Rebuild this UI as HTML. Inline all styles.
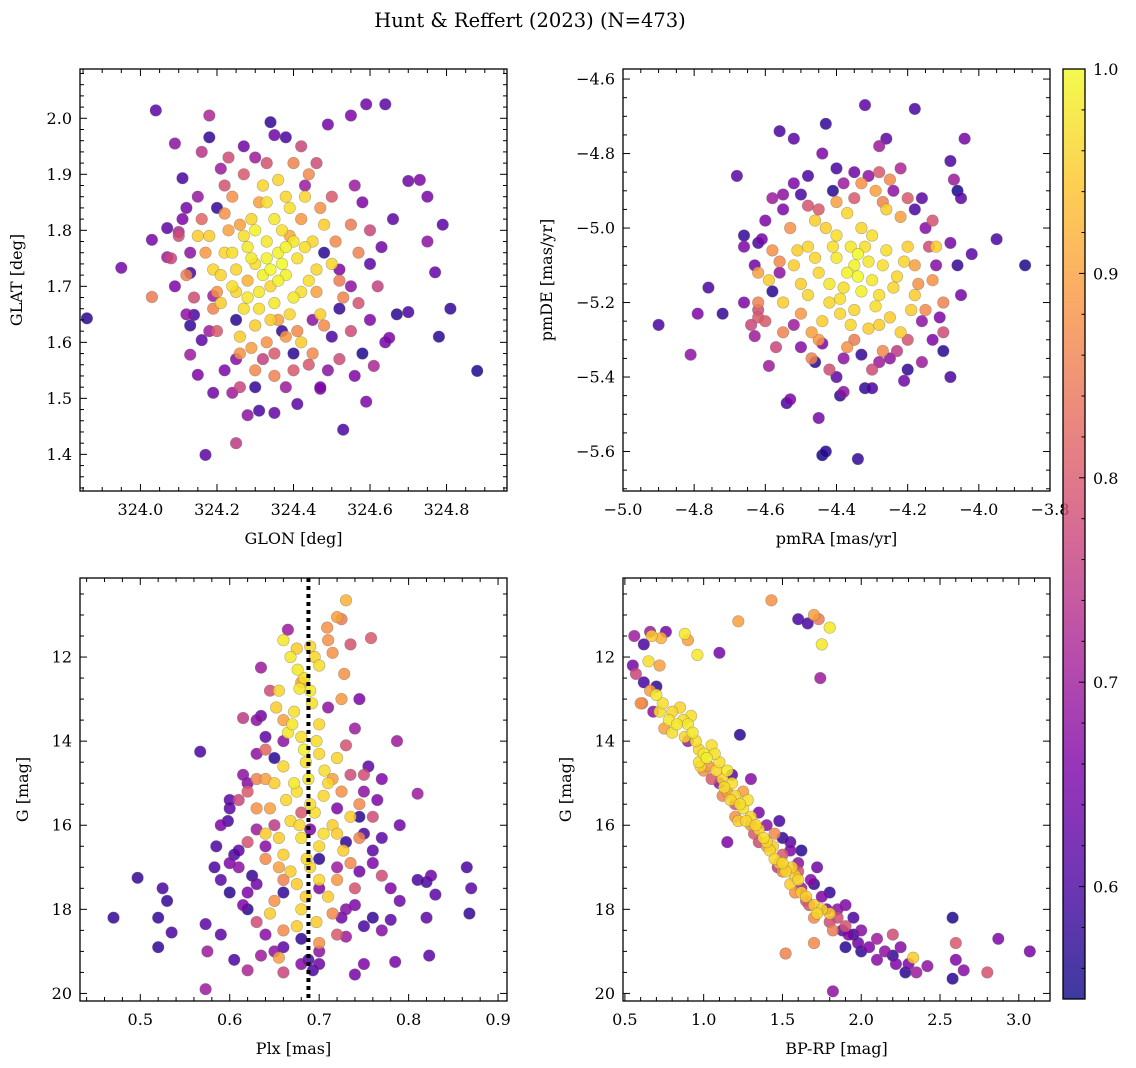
<!DOCTYPE html>
<html><head><meta charset="utf-8">
<style>
body{margin:0;background:#fff;}
svg{display:block;font-family:"DejaVu Serif","Liberation Serif",serif;}
</style></head>
<body>
<svg id="fig" width="1136" height="1068" viewBox="0 0 1136 1068" xmlns="http://www.w3.org/2000/svg">
<defs>
<linearGradient id="plasma" x1="0" y1="1" x2="0" y2="0">
<stop offset="0" stop-color="#0d0887"/><stop offset="0.125" stop-color="#4b03a1"/><stop offset="0.25" stop-color="#7d03a8"/><stop offset="0.375" stop-color="#a82296"/><stop offset="0.5" stop-color="#cb4679"/><stop offset="0.625" stop-color="#e56b5d"/><stop offset="0.75" stop-color="#f89441"/><stop offset="0.875" stop-color="#fdc328"/><stop offset="1" stop-color="#f0f921"/>
</linearGradient>
</defs>
<text x="530" y="27" font-size="19.5" text-anchor="middle">Hunt &amp; Reffert (2023) (N=473)</text>
<g id="layer"></g>
</svg>
<script>
// Panel data: [x, y, membership probability]
const glonGlat = [
[323.86,1.643,.57],[323.95,1.733,.65],[324.04,2.014,.62],[324.09,1.955,.68],[324.18,2.005,.72],[324.18,1.966,.58],[324.34,1.993,.58],[324.38,1.966,.6],[324.49,1.989,.65],[324.55,2.005,.66],[324.59,2.025,.64],[324.64,2.025,.62],[324.88,1.549,.56],[324.81,1.66,.58],[324.78,1.61,.57],[324.77,1.725,.63],[324.75,1.78,.68],[324.79,1.81,.62],[324.75,1.86,.65],[324.73,1.89,.66],[324.70,1.888,.64],[324.70,1.654,.6],[324.65,1.608,.66],[324.61,1.558,.72],[324.59,1.494,.66],[324.53,1.444,.6],[324.47,1.517,.65],[324.31,1.478,.6],[324.35,1.474,.63],[324.25,1.42,.75],[324.17,1.399,.62],[324.24,1.51,.7],[324.15,1.542,.66],[324.13,1.578,.7],[324.16,1.604,.62],[324.14,1.649,.6],[324.19,1.683,.7],[324.10,1.797,.72],[324.12,1.84,.65],[324.11,1.893,.6],[324.16,1.94,.74],[324.03,1.681,.85],[324.03,1.783,.65],[324.07,1.752,.7],[324.07,1.804,.62],[324.13,1.724,.6],
[324.33,1.78,.98],[324.36,1.76,.99],[324.30,1.74,.97],[324.38,1.72,.99],[324.34,1.70,.96],[324.28,1.77,.98],[324.41,1.75,.97],[324.25,1.73,.96],[324.31,1.69,.98],[324.37,1.80,.97],[324.29,1.82,.96],[324.44,1.71,.97],[324.35,1.67,.98],[324.22,1.76,.96],[324.39,1.84,.97],[324.32,1.88,.96],[324.27,1.66,.97],[324.45,1.78,.96],[324.24,1.70,.97],[324.40,1.68,.98],[324.34,1.73,1.0],[324.18,1.79,.95],[324.47,1.65,.95],[324.43,1.86,.96],[324.30,1.63,.95],[324.36,1.89,.96],[324.21,1.67,.95],[324.50,1.74,.96],[324.15,1.79,.95],[324.42,1.60,.95],[324.26,1.61,.95],[324.48,1.81,.95],[324.19,1.73,.96],[324.33,1.75,.99],[324.38,1.77,.99],
[324.26,1.81,.9],[324.39,1.79,.91],[324.31,1.85,.9],[324.42,1.82,.89],[324.22,1.83,.88],[324.46,1.69,.9],[324.28,1.71,.92],[324.36,1.64,.9],[324.20,1.69,.88],[324.44,1.90,.87],[324.33,1.60,.88],[324.51,1.78,.87],[324.17,1.76,.89],[324.40,1.92,.86],[324.30,1.55,.87],[324.53,1.68,.86],[324.24,1.86,.88],[324.35,1.54,.86],[324.48,1.63,.87],[324.12,1.72,.86],[324.57,1.76,.86],[324.45,1.58,.87],[324.26,1.58,.88],[324.55,1.81,.85],[324.38,1.61,.89],
[324.20,1.62,.8],[324.50,1.86,.8],[324.14,1.68,.78],[324.57,1.67,.79],[324.27,1.90,.8],[324.46,1.92,.78],[324.35,1.58,.8],[324.22,1.88,.79],[324.60,1.80,.77],[324.10,1.79,.78],[324.52,1.57,.78],[324.40,1.55,.8],[324.26,1.52,.77],[324.62,1.70,.76],[324.08,1.75,.77],[324.23,1.93,.78],[324.42,1.95,.77],[324.33,1.92,.79],[324.55,1.62,.78],
[324.45,1.64,.68],[324.52,1.73,.66],[324.18,1.62,.7],[324.58,1.85,.66],[324.12,1.65,.68],[324.30,1.93,.7],[324.25,1.57,.67],[324.49,1.55,.68],[324.38,1.52,.7],[324.60,1.64,.66],[324.15,1.86,.69],[324.55,1.70,.68],[324.22,1.55,.66],[324.43,1.88,.7],[324.63,1.77,.64],[324.11,1.82,.66],[324.35,1.97,.64],[324.47,1.52,.66],[324.28,1.47,.68],[324.64,1.60,.65],
[324.37,1.62,.58],[324.25,1.64,.57],[324.52,1.66,.58],[324.48,1.76,.57],[324.20,1.84,.58],[324.40,1.58,.57],[324.58,1.58,.56],[324.30,1.52,.58],[324.67,1.65,.57],[324.13,1.63,.58],
[324.32,1.72,.99],[324.29,1.75,.98],[324.36,1.71,.99],[324.40,1.78,.98],[324.27,1.79,.97],[324.35,1.82,.98],[324.31,1.66,.97],[324.24,1.76,.97],[324.42,1.69,.97],[324.38,1.86,.96],[324.21,1.72,.96],[324.46,1.73,.96],[324.28,1.68,.98],[324.33,1.85,.97],[324.39,1.65,.96],[324.30,1.80,.99],[324.43,1.77,.97],[324.25,1.69,.96],[324.37,1.74,1.0],[324.34,1.64,.95],
[324.23,1.80,.9],[324.47,1.84,.88],[324.19,1.66,.86],[324.41,1.62,.87],[324.29,1.59,.9],[324.52,1.71,.85],[324.16,1.82,.82],[324.44,1.56,.8],[324.32,1.57,.76],[324.56,1.88,.7],[324.09,1.70,.66],[324.60,1.74,.62],[324.21,1.91,.7],[324.50,1.61,.6],[324.27,1.95,.64],[324.13,1.76,.68],[324.66,1.82,.62],[324.19,1.51,.64],[324.41,1.49,.62],[324.56,1.54,.66]
];
const pmraPmde = [
[-4.90,-5.26,.6],[-4.81,-5.34,.68],[-4.79,-5.23,.66],[-4.76,-5.16,.6],[-4.72,-5.23,.58],[-4.68,-4.86,.62],[-4.63,-5.29,.7],[-4.62,-5.24,.8],[-4.59,-5.37,.7],[-4.56,-4.74,.6],[-4.52,-4.76,.62],[-4.54,-5.47,.6],[-4.53,-5.46,.66],[-4.45,-5.51,.65],[-4.44,-5.61,.55],[-4.43,-5.60,.57],[-4.34,-5.62,.58],[-4.39,-5.45,.58],[-4.38,-5.44,.68],[-4.30,-5.43,.6],[-4.32,-4.67,.62],[-4.28,-4.78,.7],[-4.26,-4.76,.62],[-4.18,-4.68,.6],[-4.43,-4.72,.58],[-4.44,-4.80,.66],[-4.40,-4.84,.6],[-4.35,-4.85,.64],[-4.22,-4.84,.72],[-4.16,-4.92,.62],[-4.08,-4.82,.6],[-4.06,-4.90,.55],[-4.04,-4.76,.65],[-4.07,-4.87,.7],[-3.87,-5.10,.56],[-3.95,-5.03,.6],[-4.05,-4.92,.62],[-4.08,-5.04,.65],[-4.08,-5.40,.6],[-4.13,-5.30,.66],[-4.16,-5.36,.7],[-4.32,-5.43,.58],[-4.28,-5.36,.7],[-4.50,-4.91,.6],[-4.55,-4.95,.66],[-4.55,-4.91,.68],[-4.62,-5.04,.6],[-4.61,-5.03,.65],[-4.62,-5.12,.9],
[-4.35,-5.10,.99],[-4.30,-5.14,.98],[-4.40,-5.08,.98],[-4.38,-5.16,.97],[-4.32,-5.05,.97],[-4.45,-5.12,.96],[-4.27,-5.10,.97],[-4.42,-5.20,.96],[-4.35,-5.22,.96],[-4.28,-5.18,.97],[-4.48,-5.05,.96],[-4.33,-5.00,.96],[-4.23,-5.13,.96],[-4.50,-5.15,.95],[-4.37,-4.96,.96],[-4.25,-5.24,.95],[-4.44,-5.25,.95],[-4.20,-5.05,.95],[-4.52,-5.10,.95],[-4.31,-5.27,.95],[-4.40,-5.02,.97],[-4.18,-5.18,.95],[-4.55,-5.20,.95],[-4.12,-5.05,.95],[-4.34,-5.13,1.0],[-4.26,-4.95,.95],[-4.46,-4.98,.95],[-4.59,-5.14,.95],[-4.22,-5.28,.95],[-4.36,-5.05,.98],
[-4.29,-4.90,.9],[-4.45,-5.30,.89],[-4.18,-5.10,.9],[-4.58,-5.06,.88],[-4.33,-4.88,.88],[-4.22,-4.97,.9],[-4.50,-5.23,.89],[-4.37,-5.32,.88],[-4.15,-5.22,.87],[-4.55,-5.28,.86],[-4.25,-4.87,.87],[-4.40,-4.93,.9],[-4.47,-5.35,.86],[-4.13,-5.14,.88],[-4.62,-5.20,.86],[-4.10,-5.20,.86],[-4.27,-5.33,.87],[-4.53,-5.00,.88],
[-4.28,-4.85,.8],[-4.20,-5.30,.79],[-4.62,-5.22,.78],[-4.35,-4.92,.8],[-4.48,-4.94,.79],[-4.10,-5.28,.78],[-4.57,-5.32,.77],[-4.42,-5.38,.78],[-4.13,-4.98,.79],[-4.20,-4.92,.8],[-4.64,-5.26,.77],[-4.30,-5.38,.78],
[-4.24,-4.90,.68],[-4.50,-5.32,.67],[-4.16,-5.25,.68],[-4.60,-4.98,.66],[-4.38,-4.88,.7],[-4.12,-5.10,.67],[-4.56,-5.12,.68],[-4.44,-5.31,.66],[-4.25,-5.35,.68],[-4.05,-5.18,.65],[-4.66,-5.05,.66],[-4.38,-5.35,.68],[-4.15,-5.00,.67],[-4.52,-4.88,.66],
[-4.33,-5.34,.58],[-4.46,-5.36,.57],[-4.20,-5.38,.58],[-4.58,-5.17,.57],[-4.06,-5.10,.58],[-4.41,-4.90,.57],[-4.66,-5.02,.58],[-4.10,-5.33,.57],
[-4.37,-5.12,.99],[-4.31,-5.09,.98],[-4.42,-5.15,.98],[-4.29,-5.21,.97],[-4.39,-5.19,.97],[-4.33,-5.17,.99],[-4.26,-5.06,.97],[-4.46,-5.08,.96],[-4.36,-5.26,.96],[-4.41,-5.05,.97],[-4.24,-5.16,.96],[-4.30,-5.02,.97],[-4.48,-5.18,.96],[-4.21,-5.09,.96],[-4.34,-5.07,1.0],[-4.43,-5.00,.95],[-4.28,-5.26,.95],[-4.51,-5.06,.95],[-4.19,-5.22,.95],[-4.39,-5.23,.96],
[-4.47,-5.28,.9],[-4.17,-5.15,.88],[-4.56,-5.09,.87],[-4.27,-4.93,.86],[-4.35,-5.30,.85],[-4.60,-5.25,.8],[-4.14,-5.05,.78],[-4.45,-4.95,.8],[-4.23,-5.33,.75],[-4.52,-5.26,.7],[-4.11,-5.24,.66],[-4.63,-5.10,.64],[-4.31,-4.86,.68],[-4.40,-5.40,.62],[-4.18,-4.95,.6],[-4.66,-5.20,.66],[-4.02,-5.07,.62],[-4.48,-4.86,.6],[-4.21,-5.41,.64],[-4.58,-4.92,.7]
];
const plxG = [
[0.47,18.2,.58],[0.497,17.25,.58],[0.52,18.2,.58],[0.525,17.5,.6],[0.53,17.8,.58],[0.535,18.55,.6],[0.52,18.9,.58],[0.567,14.25,.6],[0.573,18.35,.62],[0.575,19.0,.7],[0.573,19.9,.7],[0.583,17.0,.6],[0.59,17.3,.62],[0.59,18.6,.62],[0.60,15.6,.62],[0.605,19.2,.6],[0.59,16.0,.66],[0.598,15.9,.6],[0.615,13.45,.75],[0.62,19.45,.72],[0.63,17.4,.64],[0.61,16.6,.62],[0.605,16.7,.6],[0.635,12.25,.7],[0.635,13.4,.64],[0.64,13.9,.62],[0.74,13.7,.7],[0.745,13.0,.66],[0.755,14.6,.62],[0.758,11.55,.8],[0.77,14.9,.66],[0.787,14.0,.7],[0.79,16.0,.64],[0.81,15.25,.7],[0.81,17.3,.6],[0.82,17.35,.6],[0.825,17.2,.64],[0.83,17.65,.62],[0.82,18.2,.62],[0.823,19.1,.62],[0.865,17.0,.6],[0.87,17.5,.62],[0.868,18.1,.58],[0.78,18.25,.62],[0.785,19.25,.65],[0.75,19.3,.66],[0.74,19.55,.65],[0.73,18.65,.7],[0.725,18.2,.64],[0.78,17.5,.66],[0.76,16.6,.62],[0.75,16.2,.6],[0.635,19.1,.7],[0.615,17.9,.66],[0.655,19.15,.9],[0.693,19.45,.6],[0.688,19.2,.6],[0.73,10.65,.92],[0.72,11.05,.9],[0.725,11.1,.85],[0.709,11.3,.88],[0.715,11.9,.88],[0.665,11.35,.7],[0.66,11.6,.98],[0.675,11.8,.95],[0.68,12.6,.9],
[0.668,12.0,.98],[0.683,12.5,.97],[0.655,12.8,.96],[0.69,12.8,.98],[0.672,13.3,.97],[0.70,13.6,.96],[0.665,13.8,.98],[0.683,14.2,.99],[0.697,14.0,.97],[0.66,14.6,.96],[0.688,14.9,.98],[0.675,15.2,.97],[0.705,15.3,.96],[0.695,15.7,.97],[0.668,15.9,.96],[0.715,16.0,.95],[0.68,16.3,.97],[0.70,16.5,.96],[0.66,16.7,.95],[0.727,16.6,.95],[0.69,17.0,.96],[0.675,17.4,.95],[0.71,17.7,.95],[0.68,18.0,.96],[0.697,18.3,.95],[0.64,16.2,.95],[0.65,15.0,.95],[0.72,14.4,.96],[0.70,12.2,.97],[0.652,13.2,.95],[0.735,15.8,.95],[0.69,11.75,.96],[0.645,18.1,.95],[0.678,12.75,.98],[0.706,14.7,.97],
[0.64,14.9,.9],[0.725,13.0,.89],[0.63,15.6,.88],[0.745,15.5,.87],[0.655,17.0,.9],[0.72,17.3,.89],[0.65,17.8,.88],[0.735,16.9,.87],[0.70,18.8,.88],[0.66,13.5,.9],[0.728,12.4,.88],[0.64,16.8,.87],[0.715,14.9,.9],[0.63,14.9,.86],[0.745,16.3,.86],[0.66,18.5,.87],[0.71,11.6,.88],
[0.62,15.2,.8],[0.73,14.1,.79],[0.76,15.8,.78],[0.62,16.4,.79],[0.645,12.8,.78],[0.74,17.5,.79],[0.63,18.3,.78],[0.72,18.6,.8],[0.66,19.5,.77],[0.75,14.8,.78],[0.68,15.7,.8],[0.61,15.4,.77],[0.77,17.2,.78],[0.735,11.7,.79],
[0.63,14.3,.68],[0.64,16.5,.67],[0.75,15.2,.68],[0.70,17.5,.66],[0.61,17.0,.68],[0.73,18.0,.67],[0.65,19.0,.68],[0.76,16.9,.66],[0.62,15.0,.67],[0.66,14.0,.68],[0.72,15.6,.66],[0.68,19.3,.67],[0.70,19.0,.68],[0.74,17.9,.66],[0.64,18.6,.67],[0.71,13.2,.68],[0.60,16.9,.66],[0.77,18.5,.67],[0.63,13.5,.68],[0.69,16.1,.66],
[0.625,17.2,.58],[0.745,15.8,.57],[0.66,17.6,.58],[0.70,16.8,.57],[0.68,18.7,.58],[0.62,18.0,.57],[0.73,16.4,.58],[0.65,14.4,.57],[0.76,18.2,.58],[0.60,17.6,.57],
[0.676,12.3,.98],[0.692,13.1,.97],[0.67,13.6,.98],[0.685,14.5,.97],[0.70,14.3,.96],[0.672,15.0,.98],[0.69,15.5,.97],[0.678,16.0,.96],[0.705,16.2,.97],[0.686,16.8,.96],[0.668,17.1,.95],[0.70,17.3,.96],[0.685,17.7,.95],[0.663,15.4,.96],[0.71,15.0,.96],[0.68,13.9,.97],[0.695,12.0,.96],[0.72,16.2,.95],[0.655,16.3,.95],[0.675,18.4,.95],
[0.645,15.6,.9],[0.725,15.2,.88],[0.66,17.3,.86],[0.715,18.1,.87],[0.64,14.2,.82],[0.735,14.8,.78],[0.65,16.0,.75],[0.72,17.0,.7],[0.62,17.6,.66],[0.745,17.1,.64],[0.60,15.4,.62],[0.765,15.4,.66],[0.63,16.1,.7],[0.70,19.3,.64],[0.66,18.9,.62],[0.75,18.4,.6],[0.615,14.8,.68],[0.77,16.3,.62],[0.585,16.5,.6],[0.79,17.8,.64]
];
const bprpG = [
[0.56,11.5,.7],[0.55,12.2,.65],[0.62,11.7,.6],[0.66,11.4,.7],[0.67,11.5,.95],[0.76,11.4,.65],[0.73,11.55,.92],[0.88,11.45,.98],[0.9,11.6,.9],[0.96,11.95,.98],[1.1,11.9,.65],[1.22,11.15,.9],[1.43,10.65,.88],[1.6,11.1,.6],[1.66,11.2,.6],[1.7,11.0,.9],[1.73,11.1,.85],[1.8,11.3,.98],[1.75,11.7,.98],[1.74,12.5,.7],[0.65,12.1,.97],[0.72,12.2,.9],[0.62,12.6,.6],[0.66,12.8,.9],[0.61,13.1,.85],[0.7,12.9,.98],
[0.72,13.3,.97],[0.78,13.5,.98],[0.85,13.2,.96],[0.8,13.8,.97],[0.9,13.6,.98],[0.95,14.0,.97],[0.88,13.9,.96],[1.0,14.3,.98],[1.05,14.1,.97],[0.98,14.6,.96],[1.1,14.5,.97],[1.12,14.9,.96],[1.18,15.0,.97],[1.2,15.3,.96],[1.25,15.6,.97],[1.3,15.8,.96],[1.22,15.9,.95],[1.35,16.1,.96],[1.38,16.3,.97],[1.42,16.6,.96],[1.48,16.9,.95],[1.52,17.1,.96],[1.55,17.4,.95],[1.6,17.3,.96],[1.62,17.6,.95],[1.7,17.9,.95],[1.75,18.0,.96],[2.33,19.15,.95],[1.02,14.4,.99],[0.92,13.4,.97],[1.15,14.7,.98],[1.28,15.4,.97],[1.45,16.8,.96],[1.58,17.2,.95],[0.83,13.6,.98],
[0.75,13.7,.9],[1.03,14.6,.89],[1.15,15.2,.9],[1.3,16.0,.88],[1.4,16.5,.89],[1.5,17.1,.87],[1.58,17.6,.88],[1.7,18.2,.87],[1.52,19.05,.86],[1.7,18.8,.87],[0.6,13.1,.88],[1.25,15.2,.9],[1.2,15.8,.88],[1.45,16.2,.87],
[1.05,14.9,.8],[1.2,15.5,.79],[1.35,16.4,.78],[1.5,16.7,.8],[1.65,17.8,.79],[1.8,18.3,.78],[2.2,18.6,.78],[2.6,18.8,.8],[2.8,19.5,.79],[0.57,12.4,.77],[1.6,17.1,.79],[1.85,18.2,.78],[1.9,18.4,.79],
[0.68,13.3,.68],[1.1,15.0,.67],[1.4,16.0,.68],[1.55,16.6,.66],[1.6,16.9,.68],[1.68,17.3,.67],[1.75,17.7,.66],[1.85,18.0,.68],[1.92,18.6,.66],[2.0,18.5,.67],[2.05,18.9,.66],[2.15,19.0,.68],[2.25,18.9,.67],[2.3,19.3,.66],[2.42,19.35,.68],[2.6,19.2,.66],[2.65,19.45,.67],[2.87,18.7,.66],[3.07,19.0,.65],[1.82,19.95,.68],[1.15,16.4,.66],[1.3,14.9,.67],[1.9,17.9,.66],[2.1,19.2,.67],
[0.7,12.7,.58],[1.23,13.85,.57],[1.5,16.3,.58],[1.62,16.6,.57],[1.8,17.6,.58],[1.95,18.6,.57],[2.0,19.0,.58],[2.28,19.5,.57],[2.58,18.2,.56],[2.58,19.65,.57],[1.7,17.4,.58],[1.9,18.9,.57],[2.2,19.1,.58],
[0.74,13.1,.97],[0.8,13.3,.96],[0.87,13.5,.97],[0.93,13.8,.98],[0.97,14.2,.96],[1.07,14.3,.97],[1.08,14.7,.96],[1.13,15.1,.97],[1.17,15.4,.96],[1.23,15.5,.97],[1.27,15.9,.96],[1.33,16.0,.96],[1.4,16.4,.96],[1.44,16.5,.95],[1.5,16.9,.96],[1.56,17.0,.95],[1.65,17.7,.95],[1.72,18.1,.96],[1.8,18.1,.95],[0.97,14.5,.97],
[1.0,14.7,.88],[1.12,15.3,.86],[1.32,16.2,.8],[1.47,17.0,.75],[1.62,17.5,.7],[1.78,18.0,.66],[1.88,18.5,.62],[1.98,18.8,.64],[2.1,18.7,.7],[1.35,15.7,.66],[1.55,16.4,.62],[1.72,17.0,.64],[1.95,18.2,.6],[2.22,19.3,.66],[0.9,14.0,.7],[1.18,14.8,.62],[1.48,15.9,.6],[1.67,17.9,.8],[1.82,18.5,.85],[2.35,19.5,.7]
];
const plxReference = [0.688];
const cbTicks = [0.6, 0.7, 0.8, 0.9, 1.0];
const cbRange = [0.545, 1.0];

const NS = "http://www.w3.org/2000/svg";
const layer = document.getElementById('layer');
function mk(tag, attrs, parent) {
  const e = document.createElementNS(NS, tag);
  for (const k in attrs) e.setAttribute(k, attrs[k]);
  (parent || layer).appendChild(e);
  return e;
}
const stops = [[0,[13,8,135]],[0.125,[75,3,161]],[0.25,[125,3,168]],[0.375,[168,34,150]],[0.5,[203,70,121]],[0.625,[229,107,93]],[0.75,[248,148,65]],[0.875,[253,195,40]],[1,[240,249,33]]];
function plasma(t) {
  t = Math.max(0, Math.min(1, t));
  for (let i = 1; i < stops.length; i++) {
    if (t <= stops[i][0]) {
      const a = stops[i-1], b = stops[i], f = (t - a[0]) / (b[0] - a[0]);
      const c = a[1].map((v, j) => Math.round(v + (b[1][j] - v) * f));
      return 'rgb(' + c.join(',') + ')';
    }
  }
  return 'rgb(240,249,33)';
}
function cmap(p) { return plasma((p - cbRange[0]) / (cbRange[1] - cbRange[0])); }

function panel(cfg) {
  const {name, x0, y0, w, h, xmin, xmax, ymin, ymax, invert, xmaj, xmin_, ymaj, ymin_, xdec, ydec, xlabel, ylabel, data} = cfg;
  const sx = v => x0 + (v - xmin) / (xmax - xmin) * w;
  const sy = v => invert ? y0 + (v - ymin) / (ymax - ymin) * h : y0 + h - (v - ymin) / (ymax - ymin) * h;
  const g = mk('g', {});
  
  
  const clipId = name + '-clip';
  const cp = mk('clipPath', {id: clipId}, g);
  mk('rect', {x: x0, y: y0, width: w, height: h}, cp);
  const pts = mk('g', {'clip-path': 'url(#' + clipId + ')'}, g);
  
  
  const sorted = data.slice().sort((a, b) => a[2] - b[2]);
  sorted.forEach(d => {
    const c = mk('circle', {cx: sx(d[0]).toFixed(1), cy: sy(d[1]).toFixed(1), r: 5.8, fill: cmap(d[2]), 'fill-opacity': 0.85, stroke: '#666', 'stroke-opacity': 0.5, 'stroke-width': 0.6}, pts);
    
    
  });
  if (cfg.vline !== undefined) {
    const l = mk('line', {x1: sx(cfg.vline), x2: sx(cfg.vline), y1: y0, y2: y0 + h, stroke: '#000', 'stroke-width': 4, 'stroke-dasharray': '4,4'}, pts);
    
    
  }
  const ax = mk('g', {stroke: '#000', 'stroke-width': 1}, g);
  
  
  const eps = 1e-9;
  const startX = Math.ceil((xmin - eps) / xmin_) * xmin_;
  for (let v = startX; v <= xmax + eps; v += xmin_) {
    const isMaj = Math.abs(v / xmaj - Math.round(v / xmaj)) < 1e-6;
    const L = isMaj ? 7 : 4, X = sx(v);
    mk('line', {x1: X, x2: X, y1: y0 + h, y2: y0 + h - L}, ax);
    mk('line', {x1: X, x2: X, y1: y0, y2: y0 + L}, ax);
    if (isMaj) {
      const t = mk('text', {x: X, y: y0 + h + 24, 'font-size': 16, 'text-anchor': 'middle', stroke: 'none', fill: '#000'}, g);
      t.textContent = (Math.round(v / xmaj) * xmaj).toFixed(xdec).replace('-', '\u2212');
      
      
    }
  }
  const startY = Math.ceil((ymin - eps) / ymin_) * ymin_;
  for (let v = startY; v <= ymax + eps; v += ymin_) {
    const isMaj = Math.abs(v / ymaj - Math.round(v / ymaj)) < 1e-6;
    const L = isMaj ? 7 : 4, Y = sy(v);
    mk('line', {x1: x0, x2: x0 + L, y1: Y, y2: Y}, ax);
    mk('line', {x1: x0 + w, x2: x0 + w - L, y1: Y, y2: Y}, ax);
    if (isMaj) {
      const t = mk('text', {x: x0 - 8, y: Y + 5.5, 'font-size': 16, 'text-anchor': 'end', stroke: 'none', fill: '#000'}, g);
      t.textContent = (Math.round(v / ymaj) * ymaj).toFixed(ydec).replace('-', '\u2212');
      
      
    }
  }
  const fr = mk('rect', {x: x0, y: y0, width: w, height: h, fill: 'none', stroke: '#000', 'stroke-width': 1.3}, g);
  
  
  const xl = mk('text', {x: x0 + w / 2, y: y0 + h + 53, 'font-size': 16, 'text-anchor': 'middle'}, g);
  xl.textContent = xlabel;
  
  
  const yx = cfg.ylx, yy = y0 + h / 2;
  const yl = mk('text', {x: yx, y: yy, 'font-size': 16, 'text-anchor': 'middle', transform: 'rotate(-90 ' + yx + ' ' + yy + ')'}, g);
  yl.textContent = ylabel;
  
  
}

panel({name: 'glon-glat', x0: 80, y0: 69, w: 427, h: 422, xmin: 323.842, xmax: 324.958, ymin: 1.3346, ymax: 2.088, xmaj: 0.2, xmin_: 0.05, ymaj: 0.1, ymin_: 0.02, xdec: 1, ydec: 1, xlabel: 'GLON [deg]', ylabel: 'GLAT [deg]', ylx: 22, data: glonGlat});
panel({name: 'pm', x0: 623, y0: 69, w: 427, h: 422, xmin: -5.0, xmax: -3.8, ymin: -5.706, ymax: -4.573, xmaj: 0.2, xmin_: 0.05, ymaj: 0.2, ymin_: 0.05, xdec: 1, ydec: 1, xlabel: 'pmRA [mas/yr]', ylabel: 'pmDE [mas/yr]', ylx: 552, data: pmraPmde});
panel({name: 'plx-g', x0: 80, y0: 578, w: 427, h: 423, xmin: 0.4326, xmax: 0.910, ymin: 10.12, ymax: 20.18, invert: true, xmaj: 0.1, xmin_: 0.02, ymaj: 2, ymin_: 0.5, xdec: 1, ydec: 0, xlabel: 'Plx [mas]', ylabel: 'G [mag]', ylx: 28, data: plxG, vline: plxReference[0]});
panel({name: 'cmd', x0: 623, y0: 578, w: 427, h: 423, xmin: 0.488, xmax: 3.198, ymin: 10.12, ymax: 20.18, invert: true, xmaj: 0.5, xmin_: 0.1, ymaj: 2, ymin_: 0.5, xdec: 1, ydec: 0, xlabel: 'BP-RP [mag]', ylabel: 'G [mag]', ylx: 571, data: bprpG});

(function(){
  const cx = 1063, cy = 69, cw = 22, ch = 930;
  const g = mk('g', {});
  
  
  mk('rect', {x: cx, y: cy, width: cw, height: ch, fill: 'url(#plasma)', 'fill-opacity': 0.8}, g);
  const s = v => cy + ch - (v - cbRange[0]) / (cbRange[1] - cbRange[0]) * ch;
  for (let v = 0.56; v <= 1.0001; v += 0.02) {
    const maj = Math.abs(v * 10 - Math.round(v * 10)) < 1e-6;
    mk('line', {x1: cx + cw, x2: cx + cw - (maj ? 6 : 3.5), y1: s(v), y2: s(v), stroke: '#000', 'stroke-width': 1}, g);
  }
  cbTicks.forEach(v => {
    const t = mk('text', {x: cx + cw + 8, y: s(v) + 6, 'font-size': 16}, g);
    t.textContent = v.toFixed(1);
    
    
  });
  mk('rect', {x: cx, y: cy, width: cw, height: ch, fill: 'none', stroke: '#000', 'stroke-width': 1.3}, g);
})();
</script>
</body></html>
